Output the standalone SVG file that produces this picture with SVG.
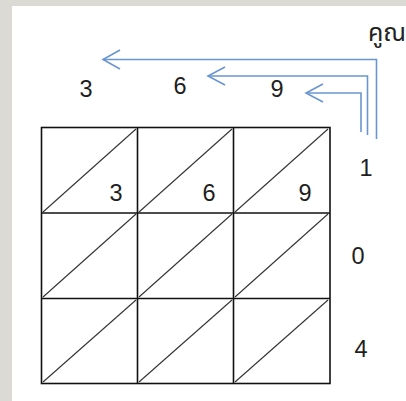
<svg xmlns="http://www.w3.org/2000/svg" width="406" height="401" viewBox="0 0 406 401">
<style>
.num{font-family:"Liberation Sans",Arial,sans-serif;font-size:23.5px;fill:#1e1e1e;text-anchor:middle}
.grid{fill:none;stroke:#111;stroke-width:1.6}
.diag{stroke:#333;stroke-width:1.1;fill:none}
.conn{fill:none;stroke:#6a96d0;stroke-width:1.6}
</style>
<rect x="0" y="0" width="406" height="401" fill="#dcdad5"/>
<rect x="12" y="6" width="394" height="395" fill="#ffffff"/>
<g id="label-multiply">
<text x="387" y="41" font-family="'Noto Sans Thai','Noto Sans','DejaVu Sans',sans-serif" font-size="25" fill="#222" text-anchor="middle">คูณ</text>
</g>
<g id="connectors">
<path class="conn" d="M103,59.5 H376.5 V139"/>
<path class="conn" d="M120,50 L103,59.5 L120,69"/>
<path class="conn" d="M208,76 H367.5 V135"/>
<path class="conn" d="M225,67 L208,76 L225,85"/>
<path class="conn" d="M306,93 H361 V132"/>
<path class="conn" d="M323,84 L306,93 L323,102"/>
</g>
<g id="top-numbers">
<text class="num" x="86" y="97">3</text>
<text class="num" x="180" y="94">6</text>
<text class="num" x="277" y="97">9</text>
</g>
<g id="right-numbers">
<text class="num" x="366" y="176">1</text>
<text class="num" x="358" y="264">0</text>
<text class="num" x="361" y="357">4</text>
</g>
<g id="grid">
<rect class="grid" x="41.5" y="127.5" width="288.5" height="256"/>
<line class="grid" x1="137.5" y1="127.5" x2="137.5" y2="383.5"/>
<line class="grid" x1="233.5" y1="127.5" x2="233.5" y2="383.5"/>
<line class="grid" x1="41.5" y1="213" x2="330" y2="213"/>
<line class="grid" x1="41.5" y1="298.5" x2="330" y2="298.5"/>
</g>
<g id="diagonals">
<line class="diag" x1="43" y1="212" x2="136" y2="129"/>
<line class="diag" x1="139" y1="212" x2="232" y2="129"/>
<line class="diag" x1="235" y1="212" x2="328" y2="129"/>
<line class="diag" x1="43" y1="297" x2="136" y2="214"/>
<line class="diag" x1="139" y1="297" x2="232" y2="214"/>
<line class="diag" x1="235" y1="297" x2="328" y2="214"/>
<line class="diag" x1="43" y1="382" x2="136" y2="300"/>
<line class="diag" x1="139" y1="382" x2="232" y2="300"/>
<line class="diag" x1="235" y1="382" x2="328" y2="300"/>
</g>
<g id="cell-numbers">
<text class="num" x="116" y="201">3</text>
<text class="num" x="209" y="201">6</text>
<text class="num" x="305" y="201">9</text>
</g>
</svg>
